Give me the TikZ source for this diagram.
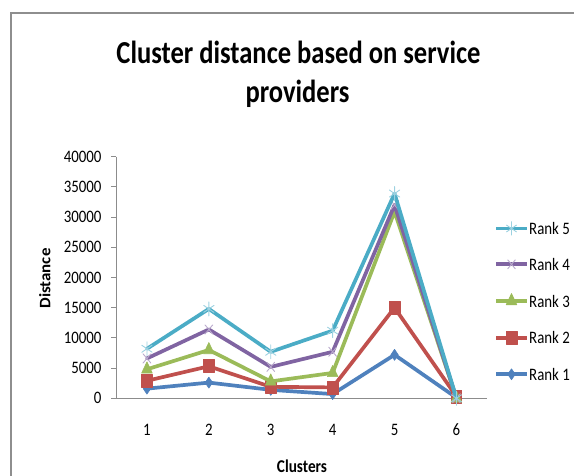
\documentclass[tikz,border=0pt]{standalone}
\usepackage{fontspec}
\setmainfont{Carlito}
\newfontfamily\titlefont[FakeStretch=0.83]{Carlito}
\newfontfamily\labelfont[FakeStretch=0.85]{Carlito}
\usetikzlibrary{plotmarks}
\definecolor{rankA}{HTML}{4F81BD}
\definecolor{rankB}{HTML}{C0504D}
\definecolor{rankC}{HTML}{9BBB59}
\definecolor{rankD}{HTML}{8064A2}
\definecolor{rankE}{HTML}{4BACC6}
\definecolor{framegray}{HTML}{8E8E8E}
\definecolor{axisgray}{HTML}{8C8C8C}
\tikzset{
  series/.style={line width=3.7pt, line join=round, line cap=round},
  rank1/.style={series, draw=rankA, mark=diamond*, mark size=5.5pt,
    mark options={draw=rankA, fill=rankA, line width=0.6pt, xscale=0.9}},
  rank2/.style={series, draw=rankB, mark=square*, mark size=6.5pt,
    mark options={draw=rankB, fill=rankB, line width=0.6pt, xscale=0.82}},
  rank3/.style={series, draw=rankC, mark=triangle*, mark size=7.5pt,
    mark options={draw=rankC, fill=rankC, line width=0.6pt, xscale=0.82}},
  rank4/.style={series, draw=rankD, mark=x, mark size=6.5pt,
    mark options={draw=rankD!55, line width=0.9pt, xscale=0.85}},
  rank5/.style={series, draw=rankE, mark=asterisk, mark size=7pt,
    mark options={draw=rankE!55, line width=0.9pt, xscale=0.85}},
  ticklabel/.style={font=\labelfont\fontsize{17.5}{20}\selectfont, inner sep=0pt},
  axistitle/.style={font=\labelfont\bfseries\fontsize{18}{21}\selectfont, inner sep=0pt},
  charttitle/.style={font=\titlefont\bfseries\fontsize{32}{39}\selectfont, inner sep=0pt},
}
\begin{document}
\begin{tikzpicture}[x=1pt,y=1pt]
\useasboundingbox (0,0) rectangle (574,475);

% chart area border
\draw[framegray, line width=1.2pt] (590,462) -- (11,462) -- (11,-10);

% title
\node[charttitle, anchor=base] (title1) at (298.5,411.7) {Cluster distance based on service};
\node[charttitle, anchor=base] (title2) at (297.5,372.3) {providers};

% plot area
\begin{scope}[shift={(116,76.7)}]
  \draw[axisgray, line width=1pt] (0,241.6) -- (0,0) -- (371.4,0);
  \foreach \k/\t in {0/0,1/5000,2/10000,3/15000,4/20000,5/25000,6/30000,7/35000,8/40000}{
    \draw[axisgray, line width=1pt] (-5,\k*30.2) -- (0,\k*30.2);
    \node[ticklabel, anchor=east] (ylab\k) at (-14.3,\k*30.2) {\t};
  }
  \foreach \i in {1,...,6}{
    \node[ticklabel] (xlab\i) at ({(\i-0.5)*61.9},-31.3) {\i};
  }
  \begin{scope}[x=61.9pt, y=6.04pt]
    \draw[rank1] plot coordinates {(0.5,1.6) (1.5,2.6) (2.5,1.4) (3.5,0.7) (4.5,7.2) (5.5,0.1)};
    \draw[rank2] plot coordinates {(0.5,2.9) (1.5,5.3) (2.5,1.9) (3.5,1.8) (4.5,15.0) (5.5,0.3)};
    \draw[rank3] plot coordinates {(0.5,4.8) (1.5,8.0) (2.5,2.8) (3.5,4.2) (4.5,30.9) (5.5,0.0)};
    \draw[rank4] plot coordinates {(0.5,6.6) (1.5,11.4) (2.5,5.2) (3.5,7.7) (4.5,32.0) (5.5,0.0)};
    \draw[rank5] plot coordinates {(0.5,8.2) (1.5,14.8) (2.5,7.7) (3.5,11.2) (4.5,33.9) (5.5,0.0)};
  \end{scope}
\end{scope}

% axis titles
\node[axistitle, rotate=90] (ytitle) at (44.7,196.5) {\fontsize{20.5}{24}\selectfont\scalebox{0.97}[0.78]{Distance}};
\node[axistitle, anchor=base] (xtitle) at (302,3) {Clusters};

% legend
\foreach \r/\y in {5/246.5,4/210.7,3/174,2/137.3,1/100.7}{
  \draw[rank\r, mark indices={2}, line cap=butt] plot coordinates {(496,\y) (511.5,\y) (527,\y)};
  \node[ticklabel, anchor=west] (leg\r) at (529,\y) {Rank \r};
}
\end{tikzpicture}
\end{document}
